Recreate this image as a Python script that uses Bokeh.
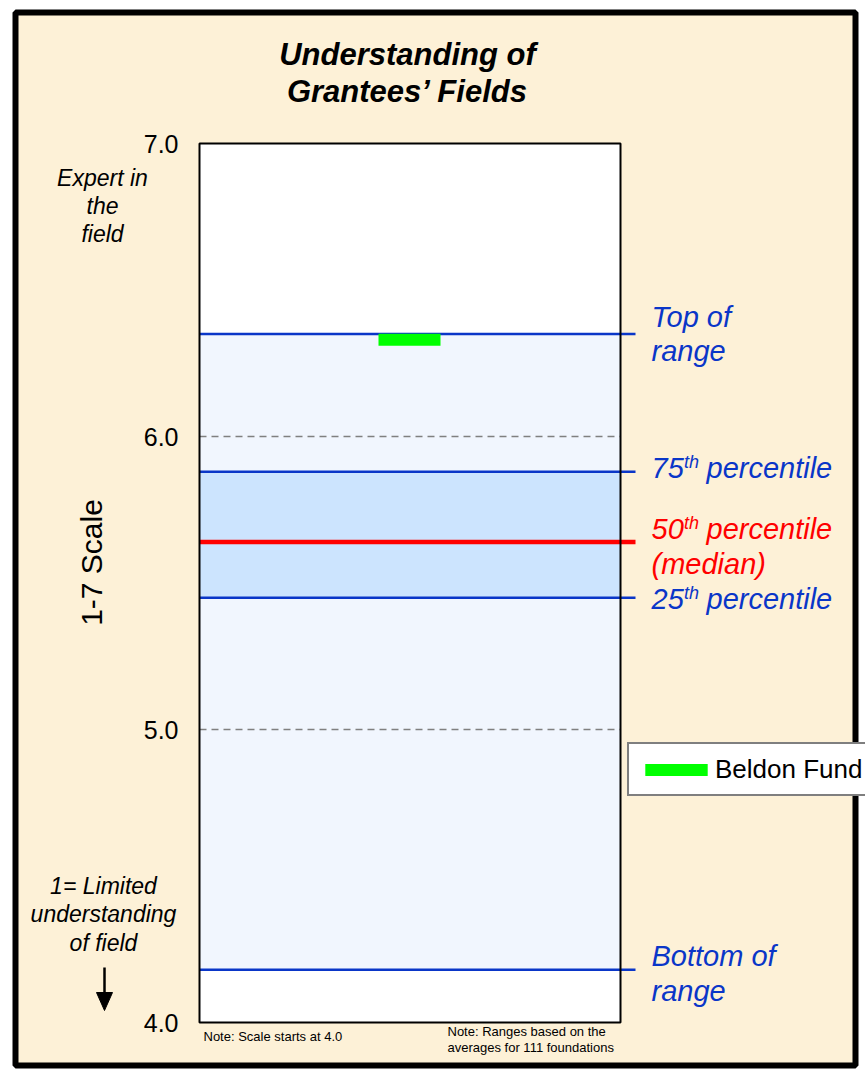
from math import pi
from bokeh.plotting import figure
from bokeh.models import Range1d, ColumnDataSource, Legend, LegendItem
from bokeh.core.properties import value
from bokeh.embed import file_html
from bokeh.resources import INLINE

# ---------------- data ----------------
y_ticks = [4.0, 5.0, 6.0, 7.0]
y_tick_labels = ["4.0", "5.0", "6.0", "7.0"]
grid_values = [5.0, 6.0]
stat_names = ["Top of range", "75th percentile", "50th percentile (median)",
              "25th percentile", "Bottom of range"]
stat_values = [6.35, 5.88, 5.64, 5.45, 4.18]
fund_names = ["Beldon Fund"]
fund_values = [6.33]

# ---------------- layout ----------------
W, H = 865, 1071
BOX_L, BOX_R, BOX_T, BOX_B = 199, 620, 143, 1022
LINE_R = 635
V_TOP, V_BOT = 7.0, 4.0
ppu = (BOX_B - BOX_T) / (V_TOP - V_BOT)
y_start = V_BOT - (H - BOX_B) / ppu
y_end = V_TOP + BOX_T / ppu

FONT = value("Liberation Sans")
CREAM = "#FDF1D7"
BLUE = "#0A36C8"
RED = "#FF0000"

p = figure(width=W, height=H, x_range=Range1d(0, W), y_range=Range1d(y_start, y_end),
           output_backend="svg", toolbar_location=None, min_border=0,
           x_axis_location=None, y_axis_location=None, outline_line_color=None,
           background_fill_color="white", border_fill_color="white")
p.grid.visible = False
p.extra_y_ranges = {"px": Range1d(H, 0)}

# outer frame
p.quad(left=[15], right=[855], top=[12], bottom=[1065], y_range_name="px",
       fill_color=CREAM, line_color="black", line_width=6)

# plot box (white)
p.quad(left=[BOX_L], right=[BOX_R], top=[V_TOP], bottom=[V_BOT],
       fill_color="white", line_color=None)

# range bands
p.quad(left=[BOX_L], right=[BOX_R], top=[stat_values[0]], bottom=[stat_values[4]],
       fill_color="#F1F6FE", line_color=None)
p.quad(left=[BOX_L], right=[BOX_R], top=[stat_values[1]], bottom=[stat_values[3]],
       fill_color="#CCE4FE", line_color=None)

# dashed gridlines
p.segment(x0=[BOX_L] * len(grid_values), x1=[BOX_R] * len(grid_values),
          y0=grid_values, y1=grid_values, line_color="#808080", line_width=1.5,
          line_dash="7 5")

# percentile lines
blue_idx = [0, 1, 3, 4]
blue_vals = [stat_values[i] for i in blue_idx]
p.segment(x0=[BOX_L] * 4, x1=[LINE_R] * 4, y0=blue_vals, y1=blue_vals,
          line_color=BLUE, line_width=2.5)
p.segment(x0=[BOX_L], x1=[LINE_R], y0=[stat_values[2]], y1=[stat_values[2]],
          line_color=RED, line_width=4.5)

# plot box border
p.quad(left=[BOX_L], right=[BOX_R], top=[V_TOP], bottom=[V_BOT],
       fill_color=None, line_color="black", line_width=2)

# Beldon Fund marker
fund_src = ColumnDataSource(dict(x=[409], y=fund_values, name=fund_names))
r_fund = p.rect(x="x", y="y", width=62, height=12, height_units="screen",
                source=fund_src, fill_color="#00FF00", line_color=None)

# y tick labels
p.text(x=[178] * len(y_ticks), y=y_ticks, text=y_tick_labels, text_align="right",
       text_baseline="middle", text_font=FONT, text_font_size="25px", text_color="black")

# y axis title
p.text(x=[91], y=[562], text=["1-7 Scale"], angle=pi / 2, y_range_name="px",
       text_align="center", text_baseline="middle", text_font=FONT,
       text_font_size="30px", text_color="black")

# title
p.text(x=[407, 407], y=[54, 91], text=["Understanding of", "Grantees\u2019 Fields"],
       y_range_name="px", text_align="center", text_baseline="middle", text_font=FONT,
       text_font_size="31px", text_font_style="bold italic", text_color="black")

# left side notes
p.text(x=[102, 102, 102], y=[177, 205, 233], text=["Expert in", "the", "field"],
       y_range_name="px", text_align="center", text_baseline="middle", text_font=FONT,
       text_font_size="23px", text_font_style="italic", text_color="black")
p.text(x=[103, 103, 103], y=[885, 913, 942],
       text=["1= Limited", "understanding", "of field"],
       y_range_name="px", text_align="center", text_baseline="middle", text_font=FONT,
       text_font_size="23px", text_font_style="italic", text_color="black")
# arrow
p.segment(x0=[104], x1=[104], y0=[967], y1=[994], y_range_name="px",
          line_color="black", line_width=2.5)
p.patch(x=[96, 112, 104], y=[992, 992, 1010], y_range_name="px",
        fill_color="black", line_color="black")

# bottom notes
p.text(x=[203], y=[1036], text=["Note: Scale starts at 4.0"], y_range_name="px",
       text_align="left", text_baseline="middle", text_font=FONT,
       text_font_size="13px", text_color="black")
p.text(x=[447, 447], y=[1031, 1047],
       text=["Note: Ranges based on the", "averages for 111 foundations"],
       y_range_name="px", text_align="left", text_baseline="middle", text_font=FONT,
       text_font_size="13px", text_color="black")

# right side labels
def lbl(x, y, t, color, size="29px"):
    p.text(x=[x], y=[y], text=[t], y_range_name="px", text_align="left",
           text_baseline="middle", text_font=FONT, text_font_size=size,
           text_font_style="italic", text_color=color)

lbl(651, 316, "Top of", BLUE)
lbl(651, 350, "range", BLUE)
for mid, num, col in [(467, "75", BLUE), (528, "50", RED), (598, "25", BLUE)]:
    lbl(651, mid, num, col)
    lbl(683.5, mid - 6, "th", col, "18px")
    lbl(706, mid, "percentile", col)
lbl(651, 563, "(median)", RED)
lbl(651, 955, "Bottom of", BLUE)
lbl(651, 990, "range", BLUE)

# legend
legend = Legend(items=[LegendItem(label=fund_names[0], renderers=[r_fund])],
                location=(627, 275), margin=0, padding=8, spacing=0,
                glyph_width=78, glyph_height=15, label_standoff=0, label_height=34,
                label_text_font="Liberation Sans", label_text_font_size="26px",
                label_text_color="black",
                border_line_color="black", border_line_width=2,
                background_fill_color="white", background_fill_alpha=1.0)
p.add_layout(legend, "center")

open("out.html", "w").write(file_html(p, INLINE))
